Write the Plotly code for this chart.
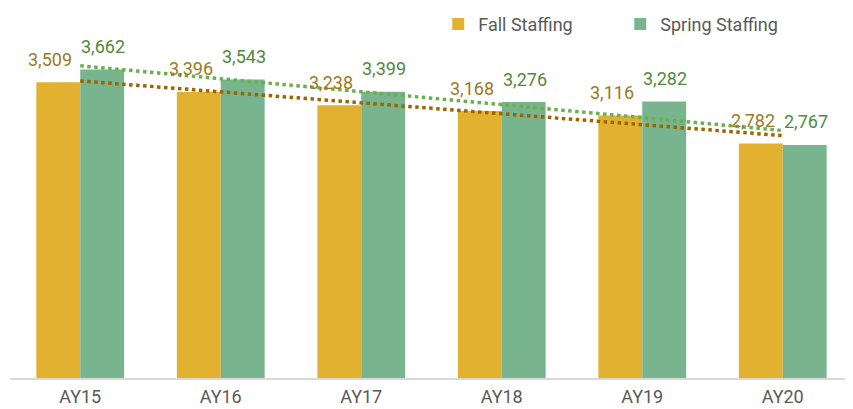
import numpy as np
import plotly.graph_objects as go

categories = ["AY15", "AY16", "AY17", "AY18", "AY19", "AY20"]
fall = [3509, 3396, 3238, 3168, 3116, 2782]
spring = [3662, 3543, 3399, 3276, 3282, 2767]

FALL_C = "#E1B12F"
SPRING_C = "#78B48E"
FALL_LBL = "#9C7A1C"
SPRING_LBL = "#4F8A3E"
FALL_TREND = "#9C6500"
SPRING_TREND = "#6AB04C"
FONT = "Roboto, sans-serif"

xi = np.arange(len(categories))
fall_fit = np.polyval(np.polyfit(xi, fall, 1), xi)
spring_fit = np.polyval(np.polyfit(xi, spring, 1), xi)

fig = go.Figure()
fig.add_trace(go.Bar(x=categories, y=fall, name="Fall Staffing", marker_color=FALL_C,
                     marker_line_width=0))
fig.add_trace(go.Bar(x=categories, y=spring, name="Spring Staffing", marker_color=SPRING_C,
                     marker_line_width=0))
fig.add_trace(go.Scatter(x=categories, y=fall_fit, mode="lines", showlegend=False,
                         line=dict(color=FALL_TREND, width=3.5, dash="dot")))
fig.add_trace(go.Scatter(x=categories, y=spring_fit, mode="lines", showlegend=False,
                         line=dict(color=SPRING_TREND, width=3.5, dash="dot")))

annotations = []
for c, f, s in zip(categories, fall, spring):
    annotations.append(dict(x=c, y=f, text=f"{f:,}", showarrow=False, xshift=-30, yshift=23,
                            yanchor="middle", font=dict(color=FALL_LBL, size=18, family=FONT)))
    annotations.append(dict(x=c, y=s, text=f"{s:,}", showarrow=False, xshift=23, yshift=23,
                            yanchor="middle", font=dict(color=SPRING_LBL, size=18, family=FONT)))

# page has an 8px body margin; figure sized/offset to compensate
fig.update_layout(
    width=845, height=401,
    margin=dict(l=2, r=0, t=33, b=31, autoexpand=False),
    paper_bgcolor="white", plot_bgcolor="white",
    barmode="group", bargap=0.375, bargroupgap=0,
    font=dict(family=FONT, color="#595959", size=18),
    annotations=annotations,
    legend=dict(orientation="h", x=0.508, y=0.995, xanchor="left", yanchor="bottom",
                font=dict(size=18, color="#595959", family=FONT),
                entrywidth=137, entrywidthmode="pixels", itemwidth=30,
                bgcolor="rgba(0,0,0,0)"),
    xaxis=dict(showline=True, linecolor="#D9D9D9", linewidth=2, ticks="",
               ticklabelstandoff=1, automargin=False,
               tickfont=dict(size=18, color="#595959", family=FONT), fixedrange=True),
    yaxis=dict(range=[0, 4000], visible=False, showgrid=False, fixedrange=True,
               automargin=False),
)

fig.write_html("out.html")
